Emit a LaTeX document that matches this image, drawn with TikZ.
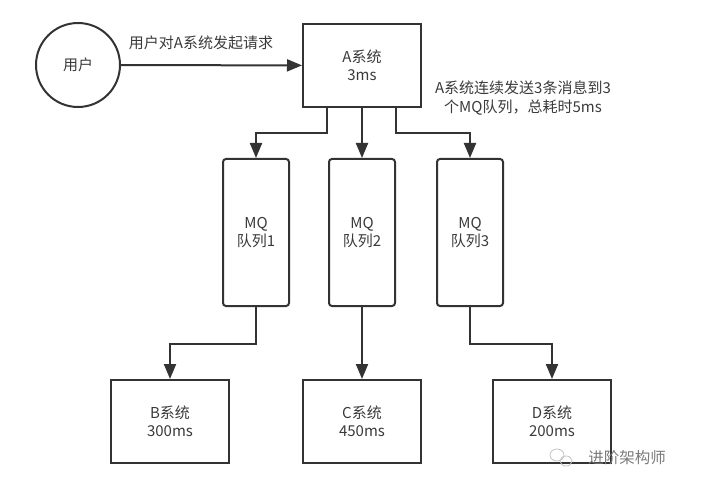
\documentclass[tikz,border=0pt]{standalone}
\usepackage{fontspec}
\setmainfont{Noto Sans CJK SC}
\usetikzlibrary{arrows.meta,positioning,calc}
\definecolor{LineGray}{HTML}{333333}
\definecolor{TextGray}{HTML}{3A3A3A}
\definecolor{MarkGray}{HTML}{7A7A7A}

\tikzset{
  sysbox/.style={draw=LineGray,line width=2pt,minimum width=118pt,minimum height=83pt,align=center,text=TextGray},
  queuebox/.style={draw=LineGray,line width=2pt,rounded corners=3pt,minimum width=66pt,minimum height=147pt,align=center,text=TextGray},
  link/.style={->,draw=LineGray,line width=2pt},
}

\begin{document}
\begin{tikzpicture}[x=1pt,y=1pt,>={Triangle[length=15pt,width=12pt]},font=\fontsize{15}{18.5}\selectfont]
\useasboundingbox (0,0) rectangle (702,491);

% user and A
\node[circle,draw=LineGray,line width=2pt,minimum size=84pt,text=TextGray] (user) at (78,426) {用户};
\node[sysbox] (sysA) at (362,425.5) {A系统\\3ms};
\draw[link] (user) -- (sysA);
\node[text=TextGray] (reqlabel) at (201,448) {用户对A系统发起请求};
\node[align=center,text=TextGray] (note) at (523,393) {A系统连续发送3条消息到3\\个MQ队列，总耗时5ms};

% queues
\foreach \n/\x in {1/256,2/362,3/470} {
  \node[queuebox] (mq\n) at (\x,258.5) {MQ\\队列\n};
}
\draw[link] ([xshift=-35pt]sysA.south) -- ++(0,-25) -| (mq1.north);
\draw[link] (sysA.south) -- (mq2.north);
\draw[link] ([xshift=34pt]sysA.south) -- ++(0,-25) -| (mq3.north);

% downstream systems
\node[sysbox] (sysB) at (170,69.5) {B系统\\300ms};
\node[sysbox] (sysC) at (362,69.5) {C系统\\450ms};
\node[sysbox] (sysD) at (552,69.5) {D系统\\200ms};
\draw[link] (mq1.south) -- ++(0,-37) -| (sysB.north);
\draw[link] (mq2.south) -- (sysC.north);
\draw[link] (mq3.south) -- ++(0,-37) -| (sysD.north);

% watermark
\draw[MarkGray!45,line width=0.8pt] (557,36) ellipse (7 and 6);
\draw[MarkGray!45,line width=0.8pt] (566,30) ellipse (6 and 5);
\node[text=MarkGray,font=\fontsize{15.5}{18}\selectfont] (mark) at (627,33) {进阶架构师};
\end{tikzpicture}
\end{document}
